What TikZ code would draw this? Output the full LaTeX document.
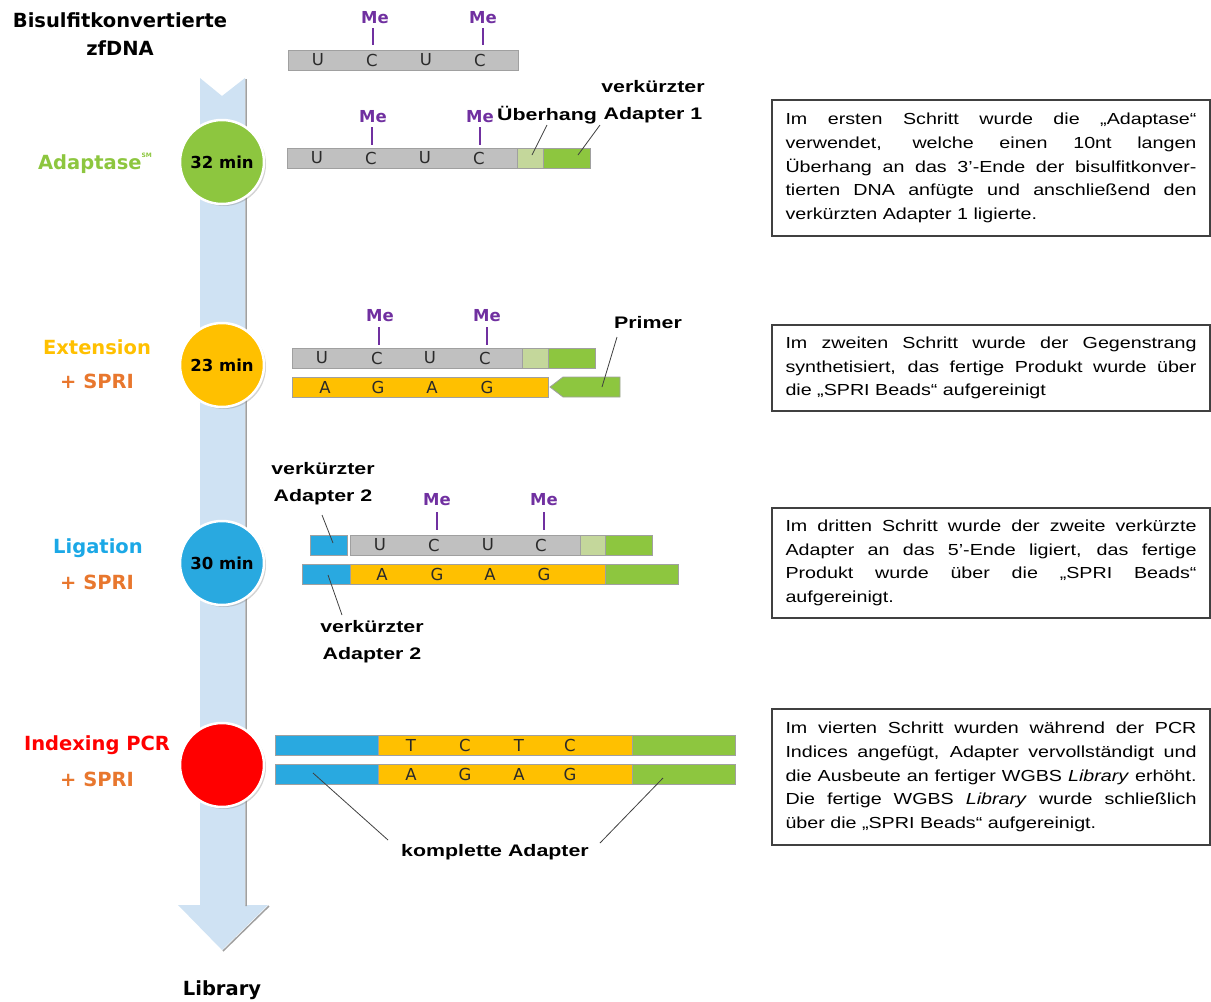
\documentclass[tikz,border=0pt]{standalone}
\usepackage{fontspec}
\setmainfont{DejaVu Sans}
\newfontfamily\boxfont[FakeStretch=1.23]{Liberation Sans}
\newfontfamily\lblfont[FakeStretch=1.28]{Liberation Sans}
\usetikzlibrary{shadows}
\definecolor{cgrey}{HTML}{C0C0C0}
\definecolor{clgreen}{HTML}{C4D79B}
\definecolor{cgreen}{HTML}{8DC63F}
\definecolor{cyellow}{HTML}{FFC000}
\definecolor{cblue}{HTML}{29A9E0}
\definecolor{cred}{HTML}{FF0000}
\definecolor{corange}{HTML}{E8772E}
\definecolor{mecol}{HTML}{7030A0}
\definecolor{segline}{HTML}{A0A0A0}
\definecolor{basecol}{HTML}{2A2A2A}
\definecolor{leadcol}{HTML}{404040}
\definecolor{boxline}{HTML}{404040}
\definecolor{arrowcol}{HTML}{CFE2F3}
\definecolor{ligcol}{HTML}{1BA8E6}
\newcommand\jl[1]{\makebox[411pt][s]{#1}}
\begin{document}
\begin{tikzpicture}[x=1pt,y=-1pt,
  seg/.style={draw=segline, line width=0.8pt, inner sep=0pt, minimum height=20pt, anchor=north west, minimum width=#1},
  base/.style={font=\fontsize{16.5}{16.5}\selectfont, text=basecol, inner sep=0pt},
  me/.style={font=\bfseries\fontsize{16.5}{16.5}\selectfont, text=mecol, inner sep=0pt},
  tick/.style={draw=mecol, line width=2pt},
  lead/.style={draw=leadcol, line width=0.8pt},
  callout/.style={font=\lblfont\bfseries\fontsize{16.7}{27}\selectfont, align=center, inner sep=0pt},
  stepl/.style={font=\bfseries\fontsize{19.5}{19.5}\selectfont, inner sep=0pt},
  circ/.style={circle, minimum size=84pt, draw=white, line width=2.5pt, inner sep=0pt,
    drop shadow={shadow xshift=2pt, shadow yshift=-2pt, opacity=0.35},
    font=\bfseries\fontsize{16.5}{16.5}\selectfont},
  textbox/.style={draw=boxline, line width=1.2pt, inner xsep=13.5pt, inner ysep=0pt, minimum width=438pt,
    font=\boxfont\fontsize{16}{23.7}\selectfont, align=left}
]
\useasboundingbox (0,0) rectangle (1211,1002);

% process arrow
\fill[arrowcol] (200,78) -- (222,96) -- (245,78) -- (245,905) -- (268,905) -- (222,950) -- (178,905) -- (200,905) -- cycle;
\draw[segline, line width=1.5pt] (246,79) -- (246,906) (269,906) -- (223,951);

% left labels
\node[stepl, align=center, font=\bfseries\fontsize{19.5}{28}\selectfont] (lbis) at (120,34) {Bisulfitkonvertierte\\zfDNA};
\node[stepl, text=cgreen] (lada) at (95,163) {Adaptase\raisebox{1.1ex}{\fontsize{6}{6}\selectfont SM}};
\node[stepl, text=cyellow] (lext) at (97,347) {Extension};
\node[stepl, text=corange] (lext2) at (97,381) {+ SPRI};
\node[stepl, text=ligcol] (llig) at (98,548) {Ligation};
\node[stepl, text=corange] (llig2) at (97,582) {+ SPRI};
\node[stepl, text=cred] (lpcr) at (97,745) {Indexing PCR};
\node[stepl, text=corange] (lpcr2) at (97,779) {+ SPRI};
\node[stepl] (llib) at (222,990) {Library};

% circles
\node[circ, fill=cgreen] (c1) at (222,162) {32 min};
\node[circ, fill=cyellow] (c2) at (222,365) {23 min};
\node[circ, fill=cblue] (c3) at (222,563) {30 min};
\node[circ, fill=cred] (c4) at (222,765) {};

% row 1
\node[seg=230, fill=cgrey] (r1g) at (288,50) {};
\foreach \x/\l in {318/U,372/C,426/U,480/C} \node[base] at (\x,60) {\l};
\node[me] (me11) at (375,18) {Me};
\node[me] (me12) at (483,18) {Me};
\draw[tick] (373,28) -- (373,45) (483,28) -- (483,45);

% row 2
\node[seg=230, fill=cgrey] (r2g) at (287,148) {};
\node[seg=26, fill=clgreen] (r2o) at (517,148) {};
\node[seg=47, fill=cgreen] (r2a) at (543,148) {};
\foreach \x/\l in {317/U,371/C,425/U,479/C} \node[base] at (\x,158) {\l};
\node[me] (me21) at (373,117) {Me};
\node[me] (me22) at (480,117) {Me};
\draw[tick] (372,127) -- (372,145) (480,127) -- (480,145);
\node[callout, anchor=west] (uber) at (497,115) {Überhang};
\node[callout] (ad1) at (653,102) {verkürzter\\Adapter 1};
\coordinate (uberpt) at (532,155);
\coordinate (ad1pt) at (578,155);
\draw[lead] (547,125) -- (uberpt);
\draw[lead] (600,125) -- (ad1pt);

% row 3
\node[seg=230, fill=cgrey] (r3g) at (292,348) {};
\node[seg=26, fill=clgreen] (r3o) at (522,348) {};
\node[seg=47, fill=cgreen] (r3a) at (548,348) {};
\foreach \x/\l in {322/U,377/C,430/U,485/C} \node[base] at (\x,358) {\l};
\node[me] (me31) at (380,316) {Me};
\node[me] (me32) at (487,316) {Me};
\draw[tick] (379,327) -- (379,345) (487,327) -- (487,345);
\node[seg=256, fill=cyellow] (r3y) at (292,377) {};
\foreach \x/\l in {325/A,378/G,432/A,487/G} \node[base] at (\x,387) {\l};
\draw[draw=segline, line width=0.8pt, fill=cgreen] (550,387) -- (563,377) -- (620,377) -- (620,397) -- (563,397) -- cycle;
\node[callout] (prim) at (648,323) {Primer};
\coordinate (primpt) at (602,387);
\draw[lead] (617,337) -- (primpt);

% row 4
\node[seg=37, fill=cblue] (r4b) at (310,535) {};
\node[seg=230, fill=cgrey] (r4g) at (350,535) {};
\node[seg=25, fill=clgreen] (r4o) at (580,535) {};
\node[seg=47, fill=cgreen] (r4a) at (605,535) {};
\foreach \x/\l in {380/U,434/C,488/U,541/C} \node[base] at (\x,545) {\l};
\node[me] (me41) at (437,500) {Me};
\node[me] (me42) at (544,500) {Me};
\draw[tick] (437,512) -- (437,530) (544,512) -- (544,530);
\node[seg=48, fill=cblue] (r4b2) at (302,564) {};
\node[seg=255, fill=cyellow] (r4y) at (350,564) {};
\node[seg=73, fill=cgreen] (r4a2) at (605,564) {};
\foreach \x/\l in {382/A,437/G,490/A,544/G} \node[base] at (\x,574) {\l};
\node[callout] (ad2a) at (323,484) {verkürzter\\Adapter 2};
\node[callout] (ad2b) at (372,642) {verkürzter\\Adapter 2};
\coordinate (ad2apt) at (333,543);
\coordinate (ad2bpt) at (328,575);
\draw[lead] (322,515) -- (ad2apt);
\draw[lead] (342,615) -- (ad2bpt);

% row 5
\node[seg=103, fill=cblue] (r5b) at (275,735) {};
\node[seg=254, fill=cyellow] (r5y) at (378,735) {};
\node[seg=103, fill=cgreen] (r5a) at (632,735) {};
\foreach \x/\l in {411/T,465/C,519/T,570/C} \node[base] at (\x,745) {\l};
\node[seg=103, fill=cblue] (r5b2) at (275,764) {};
\node[seg=254, fill=cyellow] (r5y2) at (378,764) {};
\node[seg=103, fill=cgreen] (r5a2) at (632,764) {};
\foreach \x/\l in {411/A,465/G,519/A,570/G} \node[base] at (\x,774) {\l};
\node[callout] (komp) at (495,852) {komplette Adapter};
\coordinate (kompl) at (313,773);
\coordinate (kompr) at (663,778);
\draw[lead] (388,840) -- (kompl);
\draw[lead] (600,843) -- (kompr);

% text boxes
\node[textbox, minimum height=136pt] (t1) at (991,168) {%
\jl{Im ersten Schritt wurde die „Adaptase“}\\
\jl{verwendet, welche einen 10nt langen}\\
\jl{Überhang an das 3’-Ende der bisulfitkonver-}\\
\jl{tierten DNA anfügte und anschließend den}\\
verkürzten Adapter 1 ligierte.};
\node[textbox, minimum height=86pt] (t2) at (991,368) {%
\jl{Im zweiten Schritt wurde der Gegenstrang}\\
\jl{synthetisiert, das fertige Produkt wurde über}\\
die „SPRI Beads“ aufgereinigt};
\node[textbox, minimum height=110pt] (t3) at (991,563) {%
\jl{Im dritten Schritt wurde der zweite verkürzte}\\
\jl{Adapter an das 5’-Ende ligiert, das fertige}\\
\jl{Produkt wurde über die „SPRI Beads“}\\
aufgereinigt.};
\node[textbox, minimum height=136pt] (t4) at (991,777) {%
\jl{Im vierten Schritt wurden während der PCR}\\
\jl{Indices angefügt, Adapter vervollständigt und}\\
\jl{die Ausbeute an fertiger WGBS \textit{Library} erhöht.}\\
\jl{Die fertige WGBS \textit{Library} wurde schließlich}\\
über die „SPRI Beads“ aufgereinigt.};
\end{tikzpicture}
\end{document}
